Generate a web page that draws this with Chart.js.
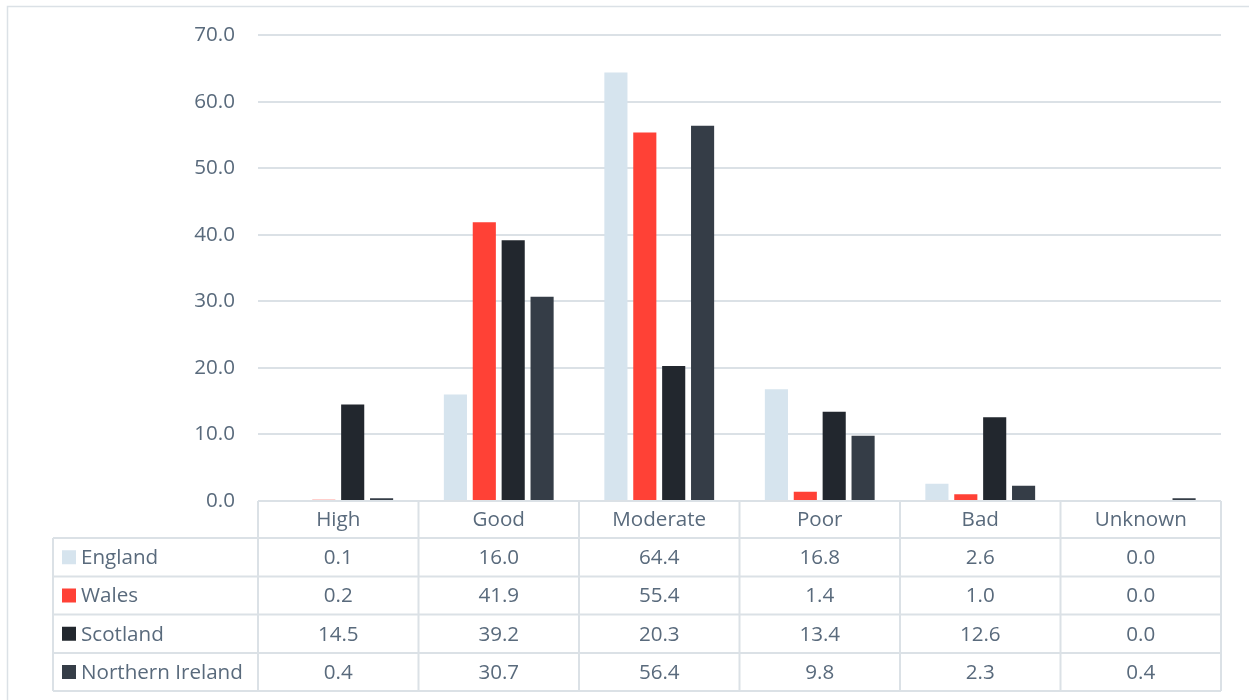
<!DOCTYPE html>
<html>
<head>
<meta charset="utf-8">
<script src="https://cdn.jsdelivr.net/npm/chart.js@4"></script>
<style>
    body { margin: 0; background: #fff; }
    #wrap { width: 1249px; height: 700px; }
</style>
</head>
<body>
<div id="wrap"><canvas id="chart" width="1249" height="700"></canvas></div>
<script>
// status classes along the x axis
const categories = ["High", "Good", "Moderate", "Poor", "Bad", "Unknown"];

// percentages per nation
const england = [0.1, 16.0, 64.4, 16.8, 2.6, 0.0];
const wales = [0.2, 41.9, 55.4, 1.4, 1.0, 0.0];
const scotland = [14.5, 39.2, 20.3, 13.4, 12.6, 0.0];
const northernIreland = [0.4, 30.7, 56.4, 9.8, 2.3, 0.4];

const yTicks = [0, 10, 20, 30, 40, 50, 60, 70];

const textColor = "#596a7c";
const lineColor = "#dbe1e6";
const font = "Open Sans";
const fontSize = 20.6;

const series = [
    { label: "England", data: england, color: "#d6e4ee" },
    { label: "Wales", data: wales, color: "#ff4136" },
    { label: "Scotland", data: scotland, color: "#22272e" },
    { label: "Northern Ireland", data: northernIreland, color: "#353d47" },
];

// frame + data table under the plot, drawn off the x scale
const tablePlugin = {
    id: "dataTable",
    beforeDraw(chart) {
        const ctx = chart.ctx;
        ctx.save();
        ctx.strokeStyle = lineColor;
        ctx.lineWidth = 1.5;
        ctx.strokeRect(7.5, 6.5, 1300, 800);
        ctx.restore();
    },
    afterDraw(chart) {
        const ctx = chart.ctx;
        const x = chart.scales.x;
        const area = chart.chartArea;
        const top = area.bottom;
        const rows = [top, 538, 576.5, 614.5, 653, 691];
        const legendLeft = 53;
        const n = categories.length;
        const step = (area.right - area.left) / n;

        ctx.save();
        ctx.strokeStyle = lineColor;
        ctx.lineWidth = 2;

        // horizontal rules
        ctx.beginPath();
        ctx.moveTo(area.left, rows[0]);
        ctx.lineTo(area.right, rows[0]);
        for (let r = 1; r < rows.length; r++) {
            ctx.moveTo(legendLeft, rows[r]);
            ctx.lineTo(area.right, rows[r]);
        }
        // vertical rules
        ctx.moveTo(legendLeft, rows[1]);
        ctx.lineTo(legendLeft, rows[rows.length - 1]);
        for (let i = 0; i <= n; i++) {
            const px = area.left + step * i;
            ctx.moveTo(px, rows[0]);
            ctx.lineTo(px, rows[rows.length - 1]);
        }
        ctx.stroke();

        ctx.fillStyle = textColor;
        ctx.font = `${fontSize}px "${font}"`;
        ctx.textBaseline = "middle";
        ctx.textAlign = "center";

        categories.forEach((c, i) => {
            ctx.fillText(c, x.getPixelForValue(i), (rows[0] + rows[1]) / 2 + 1);
        });

        series.forEach((s, r) => {
            const cy = (rows[r + 1] + rows[r + 2]) / 2 + 1;
            ctx.textAlign = "center";
            ctx.fillStyle = textColor;
            s.data.forEach((v, i) => {
                ctx.fillText(v.toFixed(1), x.getPixelForValue(i), cy);
            });
            ctx.fillStyle = s.color;
            ctx.fillRect(62, cy - 8, 14, 14);
            ctx.fillStyle = textColor;
            ctx.textAlign = "left";
            ctx.fillText(s.label, 81, cy);
        });
        ctx.restore();
    },
};

new Chart(document.getElementById("chart").getContext("2d"), {
    type: "bar",
    data: {
        labels: categories,
        datasets: series.map((s) => ({
            label: s.label,
            data: s.data,
            backgroundColor: s.color,
            borderWidth: 0,
            categoryPercentage: 0.72,
            barPercentage: 0.8,
        })),
    },
    options: {
        responsive: false,
        animation: false,
        devicePixelRatio: 1,
        layout: { padding: { top: 35, right: 28, bottom: 199, left: 0 } },
        plugins: {
            legend: { display: false },
            tooltip: { enabled: false },
        },
        scales: {
            x: {
                grid: { display: false, drawTicks: false },
                border: { display: false },
                ticks: { display: false },
            },
            y: {
                min: 0,
                max: 70,
                afterFit: (s) => { s.width = 258; },
                afterBuildTicks: (s) => { s.ticks = yTicks.map((v) => ({ value: v })); },
                grid: { color: lineColor, lineWidth: 2, drawTicks: false },
                border: { display: false },
                ticks: {
                    padding: 23,
                    color: textColor,
                    font: { family: font, size: fontSize },
                    callback: (v) => Number(v).toFixed(1),
                },
            },
        },
    },
    plugins: [tablePlugin],
});
</script>
</body>
</html>
